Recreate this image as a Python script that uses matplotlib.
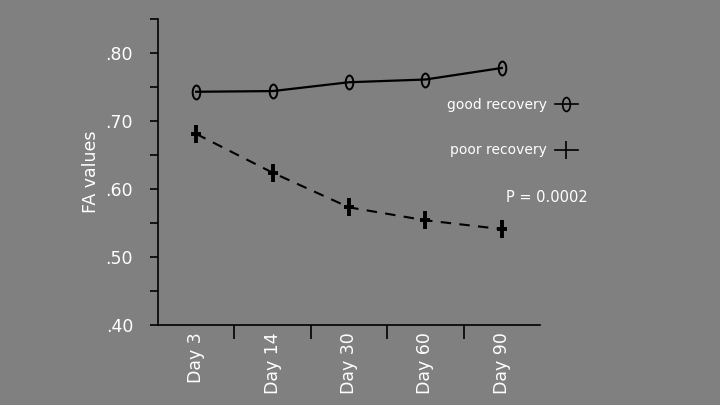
import matplotlib
matplotlib.use("Agg")
import matplotlib.pyplot as plt
import numpy as np
from matplotlib.path import Path
from matplotlib.transforms import Affine2D
from matplotlib.lines import Line2D
from matplotlib.ticker import FixedLocator, NullFormatter

categories = ["Day 3", "Day 14", "Day 30", "Day 60", "Day 90"]
good_recovery = [0.743, 0.744, 0.757, 0.761, 0.778]
poor_recovery = [0.681, 0.624, 0.573, 0.554, 0.541]
y_ticks = [0.40, 0.50, 0.60, 0.70, 0.80]
y_tick_labels = [".40", ".50", ".60", ".70", ".80"]
p_text = "P = 0.0002"

BG = "#808080"
plt.rcParams['font.family'] = ['DejaVu Sans']

fig = plt.figure(figsize=(7.2, 4.05), dpi=100, facecolor=BG)
ax = fig.add_axes([158/720, 1-325/405, (540-158)/720, (325-19)/405])
ax.set_facecolor(BG)

# custom markers
ellipse = Path.unit_circle().transformed(Affine2D().scale(0.55, 1.0))
plus = Path([(0, -1), (0, 1), (-0.6, 0), (0.6, 0)],
            [Path.MOVETO, Path.LINETO, Path.MOVETO, Path.LINETO])

x = np.arange(len(categories))
ax.plot(x, good_recovery, color="black", lw=1.6, marker=ellipse, markersize=10,
        markerfacecolor="none", markeredgecolor="black", markeredgewidth=1.4)
ax.plot(x, poor_recovery, color="black", lw=1.5, ls=(0, (5, 4)), marker=plus,
        markersize=13, markeredgecolor="black", markeredgewidth=2.8)

ax.set_xlim(-0.5, 4.5)
ax.set_ylim(0.40, 0.85)

for s in ["top", "right"]:
    ax.spines[s].set_visible(False)
for s in ["left", "bottom"]:
    ax.spines[s].set_color("black")
    ax.spines[s].set_linewidth(1.2)

# y ticks
ax.yaxis.set_major_locator(FixedLocator(y_ticks))
ax.set_yticklabels(y_tick_labels)
ax.yaxis.set_minor_locator(FixedLocator([0.45, 0.55, 0.65, 0.75, 0.85]))
ax.tick_params(axis="y", which="both", length=6, width=1.2, color="black",
               direction="out", labelcolor="white", labelsize=12.5, pad=12)

# x ticks
ax.set_xticks(x)
ax.set_xticklabels(categories, rotation=90, va="top", ha="center")
ax.xaxis.set_minor_locator(FixedLocator([0.5, 1.5, 2.5, 3.5]))
ax.xaxis.set_minor_formatter(NullFormatter())
ax.tick_params(axis="x", which="major", length=0, labelcolor="white",
               labelsize=12.5, pad=5)
ax.tick_params(axis="x", which="minor", length=10, width=1.2, color="black",
               direction="out")

ax.set_ylabel("FA values", color="white", fontsize=12.5, labelpad=4)

handles = [
    Line2D([], [], color="black", lw=1.2, marker=ellipse, markersize=10,
           markerfacecolor="none", markeredgewidth=1.2),
    Line2D([], [], color="black", lw=1.2, marker="|", markersize=13,
           markeredgewidth=1.2),
]
leg = ax.legend(handles, ["good recovery", "poor recovery"], loc="upper right",
                bbox_to_anchor=(590/720, 1-85/405), bbox_transform=fig.transFigure,
                frameon=False, markerfirst=False, fontsize=10, labelcolor="white",
                handlelength=1.6, labelspacing=2.3, handletextpad=0.6)

fig.text(588/720, 1-197/405, p_text, color="white", fontsize=10.5,
         ha="right", va="center")

fig.savefig("out.png", dpi=100, facecolor=BG)
